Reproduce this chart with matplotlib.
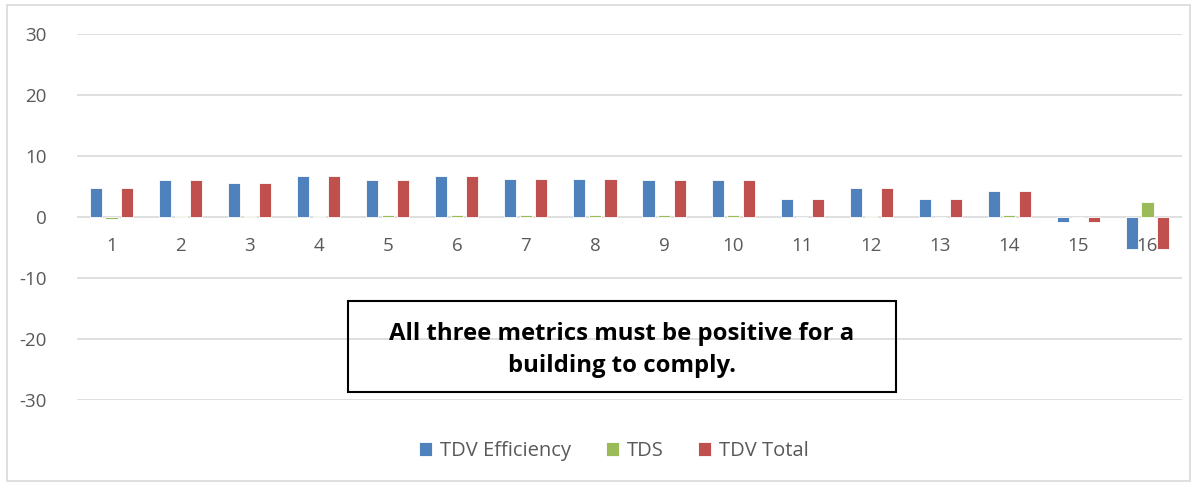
import matplotlib
matplotlib.use("Agg")
import matplotlib.pyplot as plt
import numpy as np
from matplotlib.patches import Rectangle

categories = [str(i) for i in range(1, 17)]
tdv_efficiency = [4.7, 6.0, 5.6, 6.8, 6.0, 6.7, 6.2, 6.3, 6.0, 6.0, 3.0, 4.8, 2.9, 4.2, -0.8, -5.3]
tds = [-0.4, 0.2, 0.1, 0.2, 0.3, 0.4, 0.3, 0.3, 0.3, 0.4, 0.05, 0.1, 0.05, 0.3, 0.0, 2.5]
tdv_total = [4.7, 6.0, 5.6, 6.8, 6.0, 6.7, 6.2, 6.3, 6.0, 6.0, 3.0, 4.8, 2.9, 4.2, -0.8, -5.3]
yticks = [-30, -20, -10, 0, 10, 20, 30]

plt.rcParams['font.family'] = ['Open Sans', 'DejaVu Sans']

W, H = 1196, 486
fig = plt.figure(figsize=(W / 100, H / 100), dpi=100)
ax = fig.add_axes([77 / W, (H - 400) / H, 1105 / W, 366 / H])

x = np.arange(len(categories))
bw = 0.175
off = 0.225
c_blue, c_green, c_red = '#4F81BD', '#9BBB59', '#C0504D'
ax.bar(x - off, tdv_efficiency, bw, color=c_blue, edgecolor='white', linewidth=0.6, label='TDV Efficiency', zorder=3)
ax.bar(x, tds, bw, color=c_green, edgecolor='white', linewidth=0.6, label='TDS', zorder=3)
ax.bar(x + off, tdv_total, bw, color=c_red, edgecolor='white', linewidth=0.6, label='TDV Total', zorder=3)

ax.set_xlim(-0.5, len(categories) - 0.5)
ax.set_ylim(-30, 30)
ax.set_yticks(yticks)
ax.set_yticklabels([str(v) for v in yticks])
ax.grid(axis='y', color='#D9D9D9', linewidth=1.2, zorder=0)
ax.set_axisbelow(True)
for s in ax.spines.values():
    s.set_visible(False)
ax.tick_params(axis='y', length=0, pad=22, labelsize=13.5, labelcolor='#595959')
ax.set_xticks([])
for xi, lab in zip(x, categories):
    ax.text(xi, -4.7, lab, ha='center', va='center', fontsize=13.5, color='#595959', zorder=4)

fig.text(622 / W, 1 - 350 / H, 'All three metrics must be positive for a\nbuilding to comply.',
         ha='center', va='center', fontsize=17.2, fontweight='bold', color='black',
         linespacing=1.4)
fig.patches.append(Rectangle((348 / W, 1 - 392 / H), 548 / W, 91 / H, transform=fig.transFigure,
                             facecolor='none', edgecolor='black', linewidth=1.5, zorder=1))

# outer border
fig.patches.append(Rectangle((7 / W, 1 - 481 / H), 1183 / W, 476 / H, transform=fig.transFigure,
                             facecolor='none', edgecolor='#D9D9D9', linewidth=1.2))

leg = fig.legend(loc='center', bbox_to_anchor=(614 / W, 1 - 451 / H), ncol=3, frameon=False,
                 fontsize=14.5, handlelength=0.65, handleheight=0.65, columnspacing=1.7, handletextpad=0.4)
for t in leg.get_texts():
    t.set_color('#595959')

fig.savefig('out.png', dpi=100)
